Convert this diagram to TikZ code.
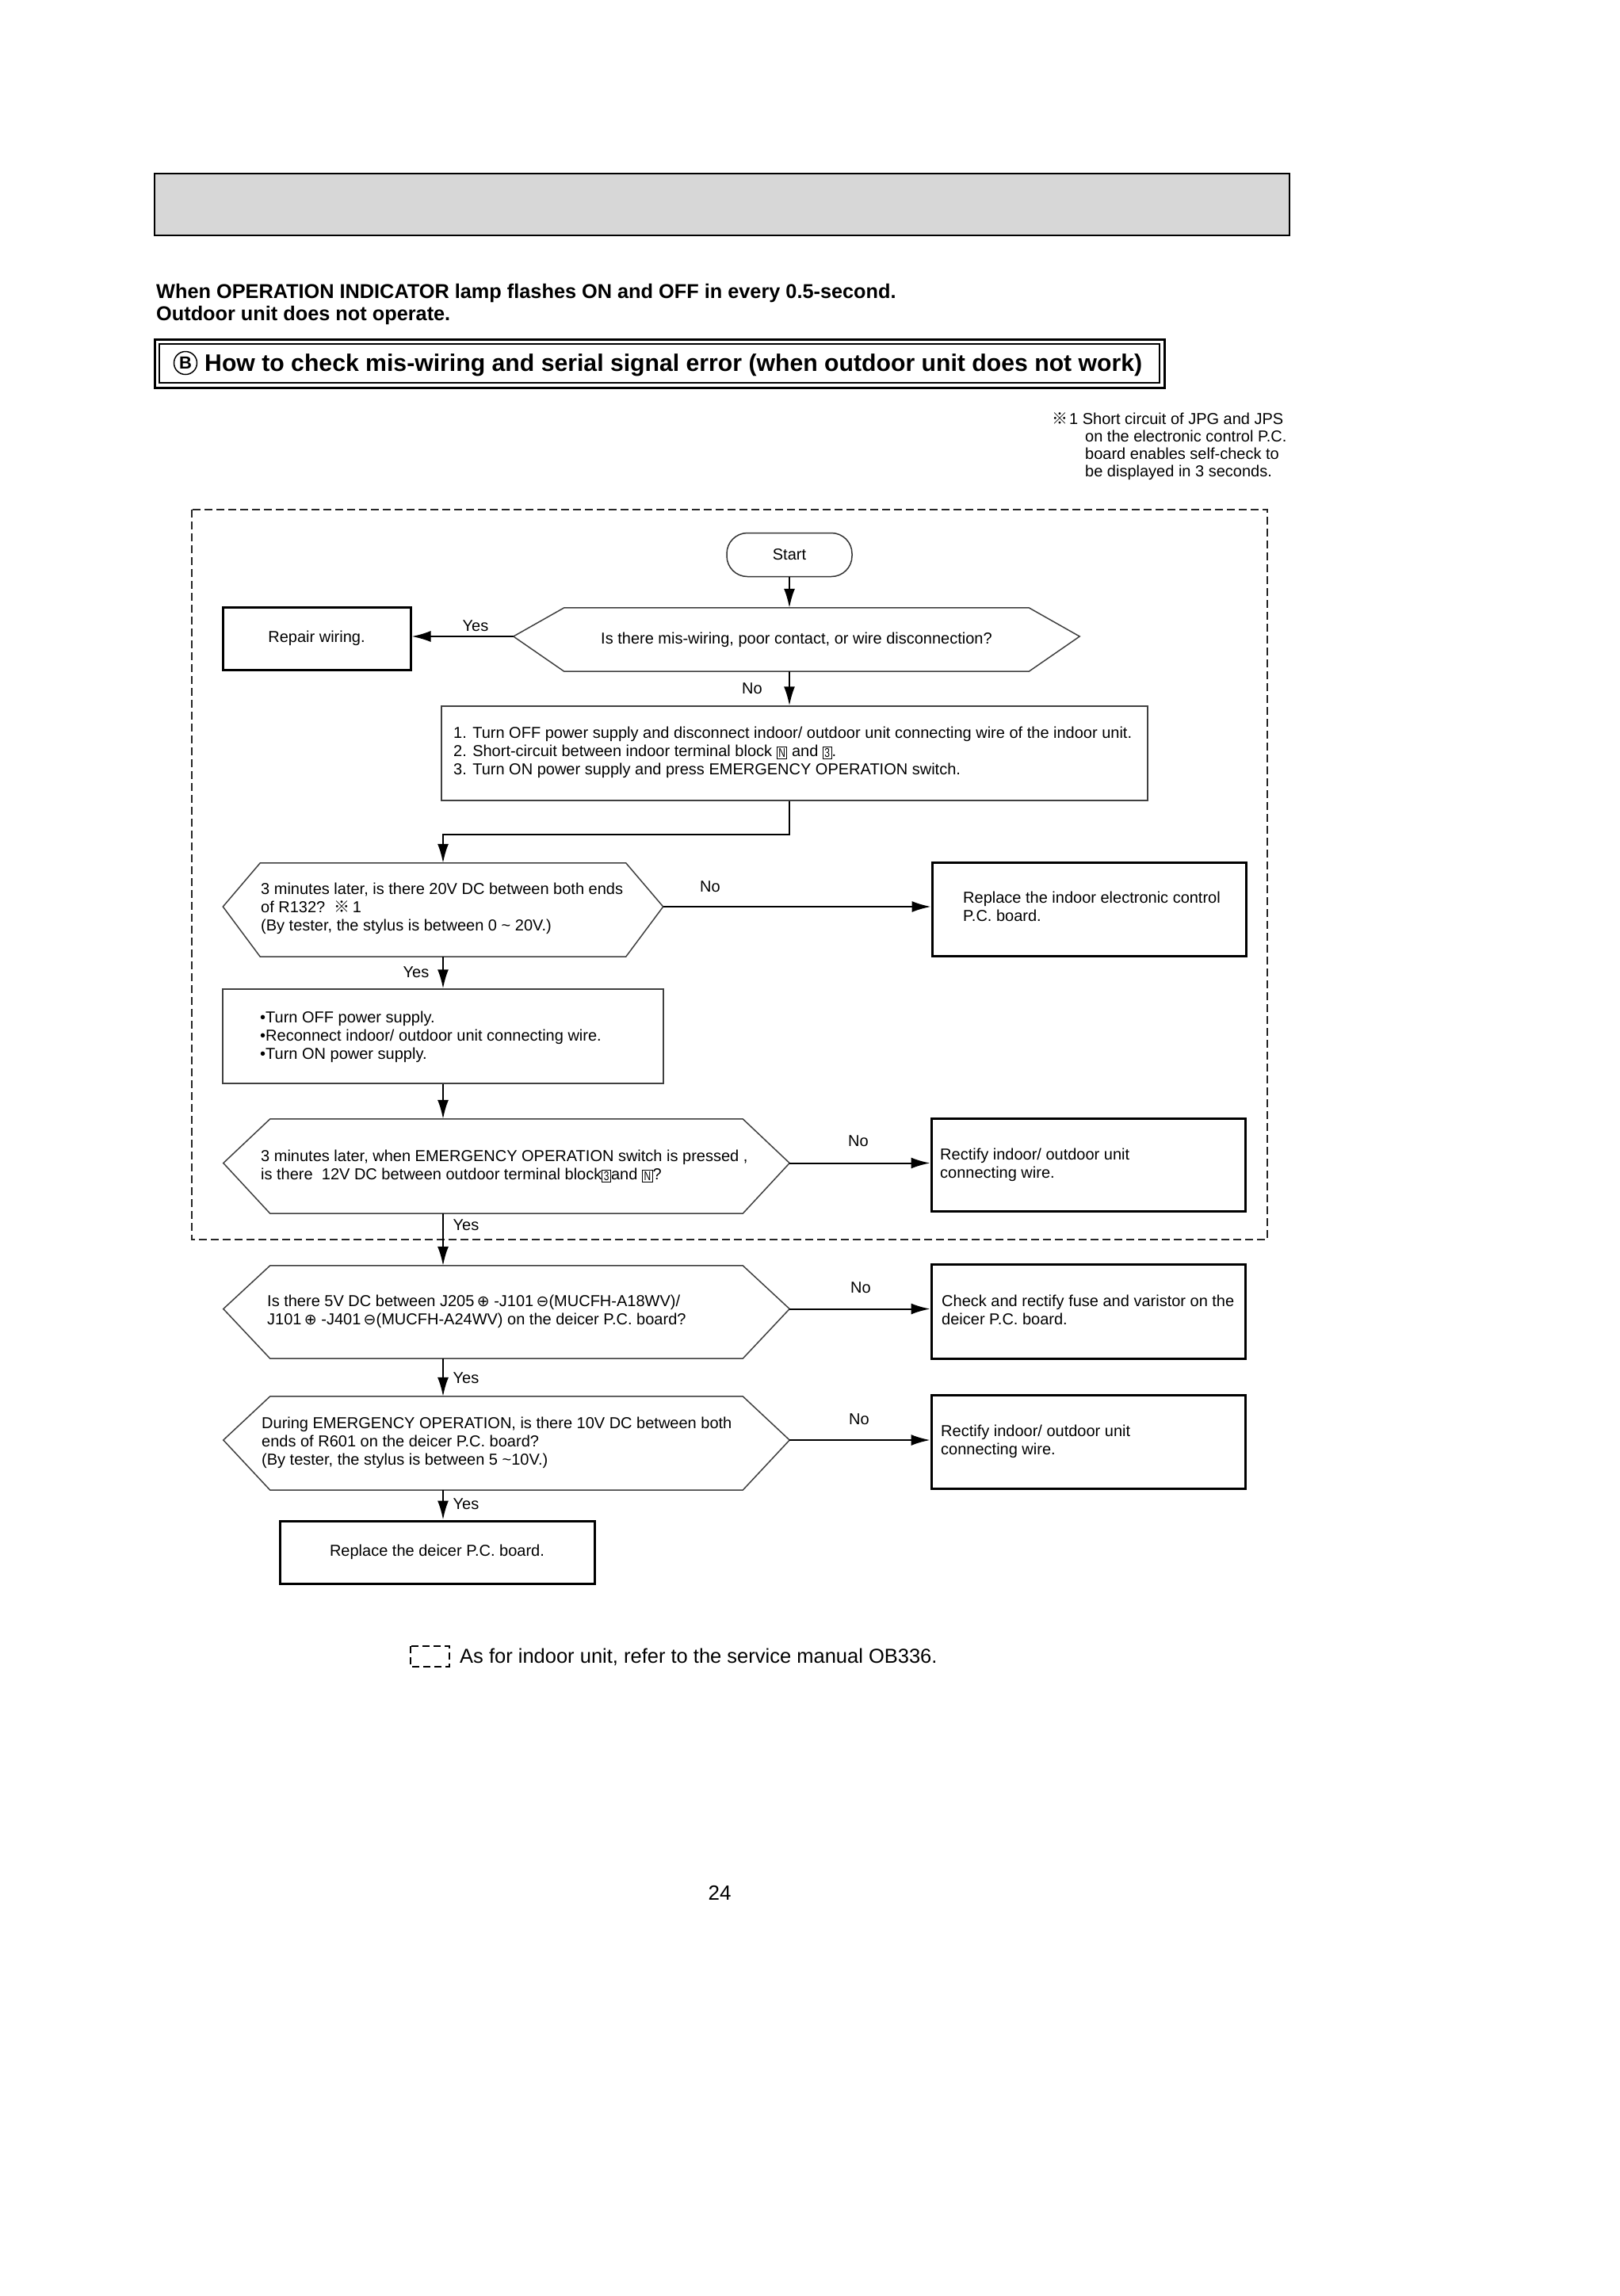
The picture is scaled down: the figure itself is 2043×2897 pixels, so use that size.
\documentclass[tikz,border=0pt]{standalone}
\usepackage{fontspec}
\usepackage{graphicx}
\setmainfont{Liberation Sans}
\newfontfamily\cjkf{Noto Sans CJK JP}
\newfontfamily\djv{DejaVu Sans}
\usetikzlibrary{arrows.meta}
\newcommand{\mylines}[1]{\begin{tabular}[t]{@{}l@{}}#1\end{tabular}}
\newcommand{\bx}[1]{{\fboxsep=1.5pt\fboxrule=1pt\raisebox{-1.5pt}{\fbox{\scalebox{0.75}[1]{\fontsize{16}{16}\selectfont #1}}}}}
\newcommand{\cplus}{{\djv\fontsize{19}{19}\selectfont ⊕}}
\newcommand{\cminus}{{\djv\fontsize{19}{19}\selectfont ⊖}}
\newcommand{\refmark}{{\cjkf ※}}
\newcommand{\hexa}[2]{\draw[hexline] ([yshift=4pt]#1.west) -- ([xshift=#2]#1.north west) -- ([xshift=-#2]#1.north east) -- ([yshift=4pt]#1.east) -- ([xshift=-#2]#1.south east) -- ([xshift=#2]#1.south west) -- cycle;}
\begin{document}
\begin{tikzpicture}[x=1pt,y=-1pt,
  txt/.style={anchor=base west, inner sep=0pt, font=\fontsize{20}{23}\selectfont},
  lbl/.style={inner sep=0pt, font=\fontsize{20}{23}\selectfont},
  tbox/.style={draw=black, line width=3pt, inner sep=0pt, align=center, font=\fontsize{20}{23}\selectfont},
  nbox/.style={draw=black!75, line width=1.5pt, inner sep=0pt},
  hexnode/.style={inner sep=0pt, font=\fontsize{20}{23}\selectfont},
  hexline/.style={draw=black!75, line width=1.5pt},
  startbox/.style={draw=black!80, line width=1.5pt, rounded corners=26pt, minimum width=158pt, minimum height=55pt, inner sep=0pt, font=\fontsize{20}{23}\selectfont},
  arr/.style={line width=2pt, -{Latex[length=24pt,width=14pt]}}
]
\useasboundingbox (0,0) rectangle (2043,2897);
\fill[white] (0,0) rectangle (2043,2897);

% header
\draw[line width=2pt, fill={rgb,255:red,215;green,215;blue,215}] (195,219) rectangle (1627,297);
\node[anchor=base west, inner sep=0pt, font=\fontsize{25.3}{28}\selectfont\bfseries] (hd1) at (197,376) {When OPERATION INDICATOR lamp flashes ON and OFF in every 0.5-second.};
\node[anchor=base west, inner sep=0pt, font=\fontsize{25.3}{28}\selectfont\bfseries] (hd2) at (197,404) {Outdoor unit does not operate.};
\draw[line width=3pt] (195,428) rectangle (1469,489);
\draw[line width=1.5pt] (201,434) rectangle (1463,483);
\node[circle, draw, line width=1.5pt, minimum size=29pt, inner sep=0pt, font=\fontsize{22}{22}\selectfont\bfseries] (circB) at (234,458) {B};
\node[anchor=base west, inner sep=0pt, font=\fontsize{30.2}{33}\selectfont\bfseries] (title) at (258,468) {How to check mis-wiring and serial signal error (when outdoor unit does not work)};

% note
\node[txt] (note0) at (1327,535) {\refmark};
\node[txt] (note1) at (1349,535) {1 Short circuit of JPG and JPS};
\node[anchor=base west, inner sep=0pt, font=\fontsize{20}{22}\selectfont] (note2) at (1369,557) {\mylines{on the electronic control P.C.\\board enables self-check to\\be displayed in 3 seconds.}};

% dashed frame
\draw[line width=1.8pt, draw=black!85, dash pattern=on 10pt off 5pt] (242,643) rectangle (1599,1564);

% flow
\node[startbox] (start) at (996,700) {Start};
\node[hexnode, minimum width=714pt, minimum height=80pt] (h1) at (1005,807) {Is there mis-wiring, poor contact, or wire disconnection?};
\hexa{h1}{64}
\node[tbox, minimum width=237pt, minimum height=79pt] (repair) at (399.5,805.5) {Repair wiring.};

\node[nbox, minimum width=891pt, minimum height=119pt] (box2) at (1002.5,950.5) {};
\node[txt] (box2t) at (572,931) {\mylines{1. Turn OFF power supply and disconnect indoor/ outdoor unit connecting wire of the indoor unit.\\2. Short-circuit between indoor terminal block \bx{N} and \bx{3}.\\3. Turn ON power supply and press EMERGENCY OPERATION switch.}};

\node[hexnode, minimum width=555pt, minimum height=118pt] (h2) at (559,1148) {};
\hexa{h2}{47}
\node[txt] (h2t) at (329,1128) {\mylines{3 minutes later, is there 20V DC between both ends\\of R132?\ \ \refmark\,1\\(By tester, the stylus is between 0 \textasciitilde{} 20V.)}};

\node[tbox, minimum width=396pt, minimum height=118pt] (box3) at (1374,1147) {};
\node[txt] (box3t) at (1215,1139) {\mylines{Replace the indoor electronic control\\P.C. board.}};

\node[nbox, minimum width=556pt, minimum height=119pt] (box4) at (559,1307.5) {};
\node[txt] (box4t) at (328,1290) {\mylines{\textbullet Turn OFF power supply.\\\textbullet Reconnect indoor/ outdoor unit connecting wire.\\\textbullet Turn ON power supply.}};

\node[hexnode, minimum width=714pt, minimum height=119pt] (h3) at (639,1471.5) {};
\hexa{h3}{59}
\node[txt] (h3t) at (329,1465) {\mylines{3 minutes later, when EMERGENCY OPERATION switch is pressed ,\\is there \ 12V DC between outdoor terminal block\bx{3}and \bx{N}?}};

\node[tbox, minimum width=396pt, minimum height=117pt] (box5) at (1373,1469.5) {};
\node[txt] (box5t) at (1186,1463) {\mylines{Rectify indoor/ outdoor unit\\connecting wire.}};

\node[hexnode, minimum width=714pt, minimum height=117pt] (h4) at (639,1655.5) {};
\hexa{h4}{59}
\node[txt] (h4t) at (337,1648) {\mylines{Is there 5V DC between J205\,\cplus\ -J101\,\cminus(MUCFH-A18WV)/\\J101\,\cplus\ -J401\,\cminus(MUCFH-A24WV) on the deicer P.C. board?}};

\node[tbox, minimum width=396pt, minimum height=119pt] (box6) at (1373,1654.5) {};
\node[txt] (box6t) at (1188,1648) {\mylines{Check and rectify fuse and varistor on the\\deicer P.C. board.}};

\node[hexnode, minimum width=714pt, minimum height=118pt] (h5) at (639,1821) {};
\hexa{h5}{59}
\node[txt] (h5t) at (330,1802) {\mylines{During EMERGENCY OPERATION, is there 10V DC between both\\ends of R601 on the deicer P.C. board?\\(By tester, the stylus is between 5 \textasciitilde10V.)}};

\node[tbox, minimum width=396pt, minimum height=118pt] (box7) at (1373,1819) {};
\node[txt] (box7t) at (1187,1812) {\mylines{Rectify indoor/ outdoor unit\\connecting wire.}};

\node[tbox, minimum width=397pt, minimum height=79pt] (box8) at (551.5,1958.5) {Replace the deicer P.C. board.};

% connectors
\coordinate (bend) at (996,1053);
\draw[arr] (start.south) -- (start.south |- h1.north);
\draw[arr] ([yshift=4pt]h1.west) -- ([yshift=4pt]h1.west -| repair.east);
\draw[arr] (start.south |- h1.south) -- (start.south |- box2.north);
\draw[arr] (start.south |- box2.south) -- (bend) -| (h2.north);
\draw[arr] ([yshift=4pt]h2.east) -- ([yshift=4pt]h2.east -| box3.west);
\draw[arr] (h2.south) -- (box4.north);
\draw[arr] (box4.south) -- (box4.south |- h3.north);
\draw[arr] ([yshift=4pt]h3.east) -- ([yshift=4pt]h3.east -| box5.west);
\draw[arr] (box4.south |- h3.south) -- (box4.south |- h4.north);
\draw[arr] ([yshift=4pt]h4.east) -- ([yshift=4pt]h4.east -| box6.west);
\draw[arr] (box4.south |- h4.south) -- (box4.south |- h5.north);
\draw[arr] ([yshift=4pt]h5.east) -- ([yshift=4pt]h5.east -| box7.west);
\draw[arr] (box4.south |- h5.south) -- (box4.south |- box8.north);

% labels
\node[lbl] (y1) at (600,790) {Yes};
\node[lbl] (n1) at (949,869) {No};
\node[lbl] (n2) at (896,1119) {No};
\node[lbl] (y2) at (525,1227) {Yes};
\node[lbl] (n3) at (1083,1440) {No};
\node[lbl] (y3) at (588,1546) {Yes};
\node[lbl] (n4) at (1086,1625) {No};
\node[lbl] (y4) at (588,1739) {Yes};
\node[lbl] (n5) at (1084,1791) {No};
\node[lbl] (y5) at (588,1898) {Yes};

% legend
\draw[line width=1.5pt, dash pattern=on 9pt off 5pt] (518,2077) rectangle (567,2103);
\node[anchor=base west, inner sep=0pt, font=\fontsize{25.5}{28}\selectfont] (legend) at (580,2098) {As for indoor unit, refer to the service manual OB336.};

% page number
\node[anchor=base, inner sep=0pt, font=\fontsize{26}{28}\selectfont] (pg) at (908,2397) {24};
\end{tikzpicture}
\end{document}
